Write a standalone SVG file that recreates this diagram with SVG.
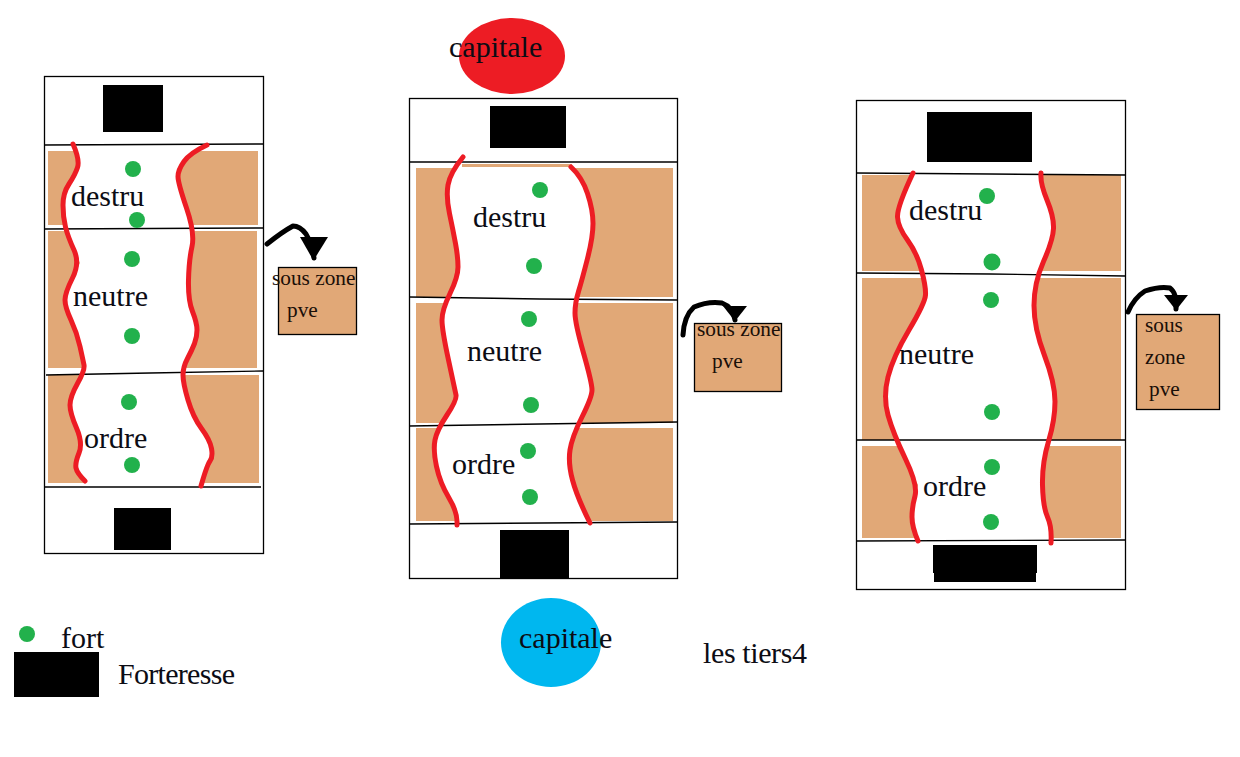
<svg xmlns="http://www.w3.org/2000/svg" width="1240" height="757" viewBox="0 0 1240 757">
<style>
.bg{fill:#fff}
.frame{fill:#fff;stroke:#000;stroke-width:1.3}
.div{fill:none;stroke:#000;stroke-width:1.4}
.tan{fill:#e1a877}
.clear{fill:#fff}
.red{fill:none;stroke:#ed1c24;stroke-width:5;stroke-linecap:round;stroke-linejoin:round}
.fort{fill:#22b14c}
.big{font-family:"Liberation Serif","Times New Roman",serif;font-size:30px;fill:#0c0c14}
.small{font-family:"Liberation Serif","Times New Roman",serif;font-size:21.3px;fill:#1a0f08}
.sub{fill:#e1a877;stroke:#000;stroke-width:1.3}
.arrow{fill:none;stroke:#000;stroke-width:5;stroke-linecap:round;stroke-linejoin:round}
</style>
<defs>
<marker id="headBig" markerUnits="userSpaceOnUse" markerWidth="30" markerHeight="24" viewBox="0 0 30 24" refX="15" refY="22" orient="0"><path d="M1 1L29 1L16 22L13 22Z" fill="#000"/></marker>
<marker id="headSmall" markerUnits="userSpaceOnUse" markerWidth="26" markerHeight="17" viewBox="0 0 26 17" refX="13" refY="15" orient="0"><path d="M1 1L25 1L14 15L12 15Z" fill="#000"/></marker>
</defs>
<rect class="bg" width="1240" height="757"/>

<g id="tier-left">
<rect class="frame" x="44.500" y="76.500" width="219" height="477"/>
<rect class="tan" x="48" y="151" width="210" height="74"/>
<rect class="tan" x="48" y="231" width="209" height="137"/>
<rect class="tan" x="48" y="375" width="211" height="108"/>
<polygon class="clear" points="73,144 80,160 75,175 63,193 63,217 68,237 80,263 65,293 65,307 77,333 83,360 85,370 70,397 70,413 83,443 75,463 77,473 85,481 85,487 201,487 201,486 207,465 213,457 210,440 193,417 183,383 183,367 192,350 197,337 197,323 188,300 189,260 195,233 178,183 178,170 190,153 207,145"/>
<polyline class="div" points="44,145 263,144"/>
<polyline class="div" points="44,229 263,228"/>
<polyline class="div" points="46,375 150,373 263,371"/>
<polyline class="div" points="44,487 261,487"/>
<rect x="103" y="85" width="60" height="47"/>
<rect x="114" y="508" width="57" height="42"/>
<path class="red" d="M73 144Q80 160 77.500 167.500Q75 175 69 184Q63 193 63 205Q63 217 65.500 227Q68 237 74 250Q80 263 72.500 278Q65 293 65 300Q65 307 71 320Q77 333 80 346.500Q83 360 84 365Q85 370 77.500 383.500Q70 397 70 405Q70 413 76.500 428Q83 443 79 453Q75 463 76 468Q77 473 85 481"/>
<path class="red" d="M207 145Q190 153 184 161.500Q178 170 178 176.500Q178 183 186.500 208Q195 233 192 246.500Q189 260 188.500 280Q188 300 192.500 311.500Q197 323 197 330Q197 337 194.500 343.500Q192 350 187.500 358.500Q183 367 183 375Q183 383 188 400Q193 417 201.500 428.500Q210 440 211.500 448.500Q213 457 210 461Q207 465 201 486"/>
<circle class="fort" cx="133" cy="169" r="8"/><circle class="fort" cx="137" cy="220" r="8"/>
<circle class="fort" cx="132" cy="259" r="8"/><circle class="fort" cx="132" cy="336" r="8"/>
<circle class="fort" cx="129" cy="402" r="8"/><circle class="fort" cx="132" cy="465" r="8"/>
<text class="big" x="71" y="206">destru</text>
<text class="big" x="73" y="306">neutre</text>
<text class="big" x="84" y="448">ordre</text>
</g>

<g id="tier-middle">
<rect class="frame" x="409.500" y="98.500" width="268" height="480"/>
<rect class="tan" x="416" y="168" width="257" height="129"/>
<rect class="tan" x="416" y="303" width="257" height="120"/>
<rect class="tan" x="416" y="428" width="257" height="93"/>
<polygon class="clear" points="463,157 450,173 446,197 453,230 458,257 458,277 442,310 442,330 455,390 457,400 437,430 433,450 440,483 458,513 457,525 590,525 590,523 577,497 568,463 572,437 590,400 592,397 592,383 575,323 575,303 582,280 593,237 593,210 582,177 571,167"/>
<rect class="tan" x="462" y="164" width="110" height="3"/>
<polyline class="div" points="409,162 677,162"/>
<polyline class="div" points="409,297 540,299 677,300"/>
<polyline class="div" points="409,426 540,424 677,422"/>
<polyline class="div" points="409,524 677,522"/>
<rect x="490" y="106" width="76" height="42"/>
<rect x="500" y="530" width="69" height="48"/>
<path class="red" d="M463 157Q450 173 448 185Q446 197 449.500 213.500Q453 230 455.500 243.500Q458 257 458 267Q458 277 450 293.500Q442 310 442 320Q442 330 448.500 360Q455 390 456 395Q457 400 447 415Q437 430 435 440Q433 450 436.500 466.500Q440 483 449 498Q458 513 457 525"/>
<path class="red" d="M571 167Q582 177 587.500 193.500Q593 210 593 223.500Q593 237 587.500 258.500Q582 280 578.500 291.500Q575 303 575 313Q575 323 583.500 353Q592 383 592 390Q592 397 582 417Q572 437 570 450Q568 463 572.500 480Q577 497 590 523"/>
<circle class="fort" cx="540" cy="190" r="8"/><circle class="fort" cx="534" cy="266" r="8"/>
<circle class="fort" cx="529" cy="319" r="8"/><circle class="fort" cx="531" cy="405" r="8"/>
<circle class="fort" cx="528" cy="451" r="8"/><circle class="fort" cx="530" cy="497" r="8"/>
<text class="big" x="473" y="227">destru</text>
<text class="big" x="467" y="361">neutre</text>
<text class="big" x="452" y="474">ordre</text>
</g>

<g id="tier-right">
<rect class="frame" x="856.500" y="100.500" width="269" height="489"/>
<rect class="tan" x="862" y="175" width="259" height="96"/>
<rect class="tan" x="862" y="278" width="259" height="162"/>
<rect class="tan" x="862" y="446" width="259" height="92"/>
<polygon class="clear" points="913,173 897,207 898,227 917,253 926,287 925,303 893,357 883,397 893,433 918,485 912,507 912,527 918,541 1051,541 1052,527 1043,507 1042,463 1055,420 1055,383 1034,328 1034,283 1053,240 1054,217 1040,183 1041,173"/>
<polyline class="div" points="856,173 990,174 1126,175"/>
<polyline class="div" points="857,273 990,274 1125,276"/>
<polyline class="div" points="856,440 1125,440"/>
<polyline class="div" points="856,541 1125,540"/>
<rect x="927" y="112" width="105" height="50"/>
<rect x="933" y="545" width="104" height="28"/>
<rect x="934" y="570" width="102" height="12"/>
<path class="red" d="M913 173Q897 207 897.500 217Q898 227 907.500 240Q917 253 921.500 270Q926 287 925.500 295Q925 303 909 330Q893 357 888 377Q883 397 888 415Q893 433 905.500 459Q918 485 915 496Q912 507 912 517Q912 527 918 541"/>
<path class="red" d="M1041 173Q1040 183 1047 200Q1054 217 1053.500 228.500Q1053 240 1043.500 261.500Q1034 283 1034 305.500Q1034 328 1044.500 355.500Q1055 383 1055 401.500Q1055 420 1048.500 441.500Q1042 463 1042.500 485Q1043 507 1047.500 517Q1052 527 1051 543"/>
<circle class="fort" cx="987" cy="196" r="8"/><circle class="fort" cx="992" cy="262" r="8.500"/>
<circle class="fort" cx="991" cy="300" r="8"/><circle class="fort" cx="992" cy="412" r="8"/>
<circle class="fort" cx="992" cy="467" r="8"/><circle class="fort" cx="991" cy="522" r="8"/>
<text class="big" x="909" y="220">destru</text>
<text class="big" x="899" y="364">neutre</text>
<text class="big" x="923" y="496">ordre</text>
</g>

<g id="capitale-red">
<ellipse cx="512" cy="56" rx="53" ry="38" fill="#ed1c24"/>
<text class="big" x="449" y="57">capitale</text>
</g>
<g id="capitale-blue">
<ellipse cx="551" cy="642.500" rx="50" ry="44.500" fill="#00b7ef"/>
<text class="big" x="519" y="648">capitale</text>
</g>

<g id="sous-zone-left">
<rect class="sub" x="278.500" y="267.500" width="78" height="67"/>
<text class="small" x="272" y="285">sous zone</text>
<text class="small" x="287" y="317">pve</text>
</g>
<g id="sous-zone-middle">
<rect class="sub" x="694.500" y="323.500" width="87" height="68"/>
<text class="small" x="697" y="336">sous zone</text>
<text class="small" x="712" y="368">pve</text>
</g>
<g id="sous-zone-right">
<rect class="sub" x="1136.500" y="314.500" width="83" height="95"/>
<text class="small" x="1145" y="332">sous</text>
<text class="small" x="1145" y="364">zone</text>
<text class="small" x="1149" y="396">pve</text>
</g>

<g id="connectors">
<path class="arrow" marker-end="url(#headBig)" d="M267 244Q282 232 293 226Q300 226 306 234Q311 242 314 258"/>
<path class="arrow" marker-end="url(#headSmall)" d="M683 335Q684 316 694 307Q708 301 722 303Q733 307 735 320"/>
<path class="arrow" marker-end="url(#headSmall)" d="M1128 312Q1134 298 1145 291Q1160 286 1170 288Q1177 293 1176 309"/>
</g>

<g id="legend-fort">
<circle class="fort" cx="27" cy="634" r="8"/>
<text class="big" x="61" y="648">fort</text>
</g>
<g id="legend-forteresse">
<rect x="14" y="652" width="85" height="45"/>
<text class="big" x="118" y="684" textLength="117">Forteresse</text>
</g>
<g id="caption">
<text class="big" x="703" y="663" textLength="104">les tiers4</text>
</g>
</svg>
